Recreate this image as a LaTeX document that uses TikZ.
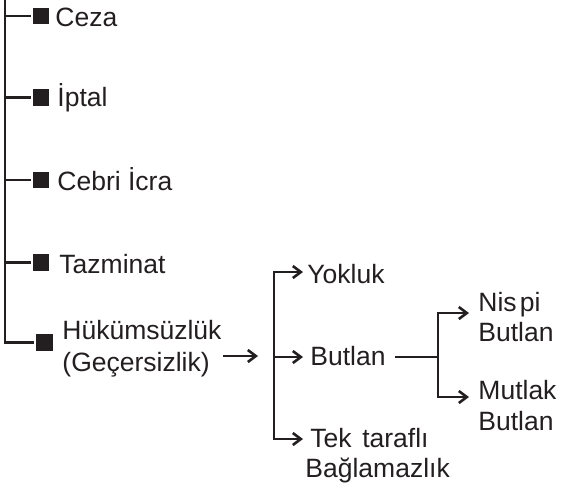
\documentclass[tikz,border=0pt]{standalone}
\usepackage{fontspec}
\setmainfont{Liberation Sans}
\usetikzlibrary{arrows.meta}
\definecolor{ink}{HTML}{231F20}
\tikzset{mybarb/.tip={Straight Barb[length=8pt,width=12pt,line width=2.6pt]}}
\begin{document}
\begin{tikzpicture}[x=1pt,y=-1pt,line width=2.9pt,draw=ink,
  sq/.style={fill=ink,draw=none,minimum size=16.5pt,inner sep=0pt},
  bigsq/.style={sq,minimum size=17.5pt},
  lbl/.style={anchor=base west,inner sep=0pt,text=ink,font=\fontsize{26.5}{30}\selectfont},
  arr/.style={-mybarb},
  barr/.style={mybarb-mybarb}]
\useasboundingbox (0,0) rectangle (563,488);
% left list
\node[sq] (s1) at (41,16) {};
\node[sq] (s2) at (41,97.5) {};
\node[sq] (s3) at (41,180) {};
\node[sq] (s4) at (41,262.5) {};
\node[bigsq] (s5) at (44.5,342.5) {};
\node[lbl] (ceza) at (54,26) {Ceza};
\node[lbl] (iptal) at (56,106) {İptal};
\node[lbl] (cebri) at (56,190) {Cebri İcra};
\node[lbl] (tazm) at (58,273) {Tazminat};
\node[lbl] (hk1) at (61,339) {Hükümsüzlük};
\node[lbl] (hk2) at (61,371) {(Geçersizlik)};
\coordinate (top) at (5,-2);
\coordinate (b1) at (5,16);
\coordinate (b2) at (5,97.5);
\coordinate (b3) at (5,180);
\coordinate (b4) at (5,262.5);
\draw (top) |- (s5.west);
\draw (b1) -- (s1.west);
\draw (b2) -- (s2.west);
\draw (b3) -- (s3.west);
\draw (b4) -- (s4.west);
% first bracket
\coordinate (hs) at (223,356);
\coordinate (he) at (258,356);
\draw[arr] (hs) -- (he);
\coordinate (bt) at (274,272);
\coordinate (bb) at (274,439);
\coordinate (bm) at (274,357);
\coordinate (yt) at (303,272);
\coordinate (bmt) at (303,357);
\coordinate (tt) at (303,439);
\draw[barr] (yt) -- (bt) -- (bb) -- (tt);
\draw[arr] (bm) -- (bmt);
\node[lbl] (yok) at (306,283) {Yokluk};
\node[lbl] (but) at (309,365) {Butlan};
\node[lbl] (tek1) at (309,447) {Tek\hspace{0.4em}taraflı};
\node[lbl] (tek2) at (304,477) {Bağlamazlık};
% second bracket
\coordinate (ls) at (395,357);
\coordinate (lm) at (438,357);
\draw (ls) -- (lm);
\coordinate (nt) at (438,313);
\coordinate (nb) at (438,397);
\coordinate (ntip) at (469,313);
\coordinate (mtip) at (469,397);
\draw[barr] (ntip) -- (nt) -- (nb) -- (mtip);
\node[lbl] (nis1) at (477,311) {Nis\hspace{0.12em}pi};
\node[lbl] (nis2) at (477,341) {Butlan};
\node[lbl] (mut1) at (477,399) {Mutlak};
\node[lbl] (mut2) at (477,430) {Butlan};
\end{tikzpicture}
\end{document}
